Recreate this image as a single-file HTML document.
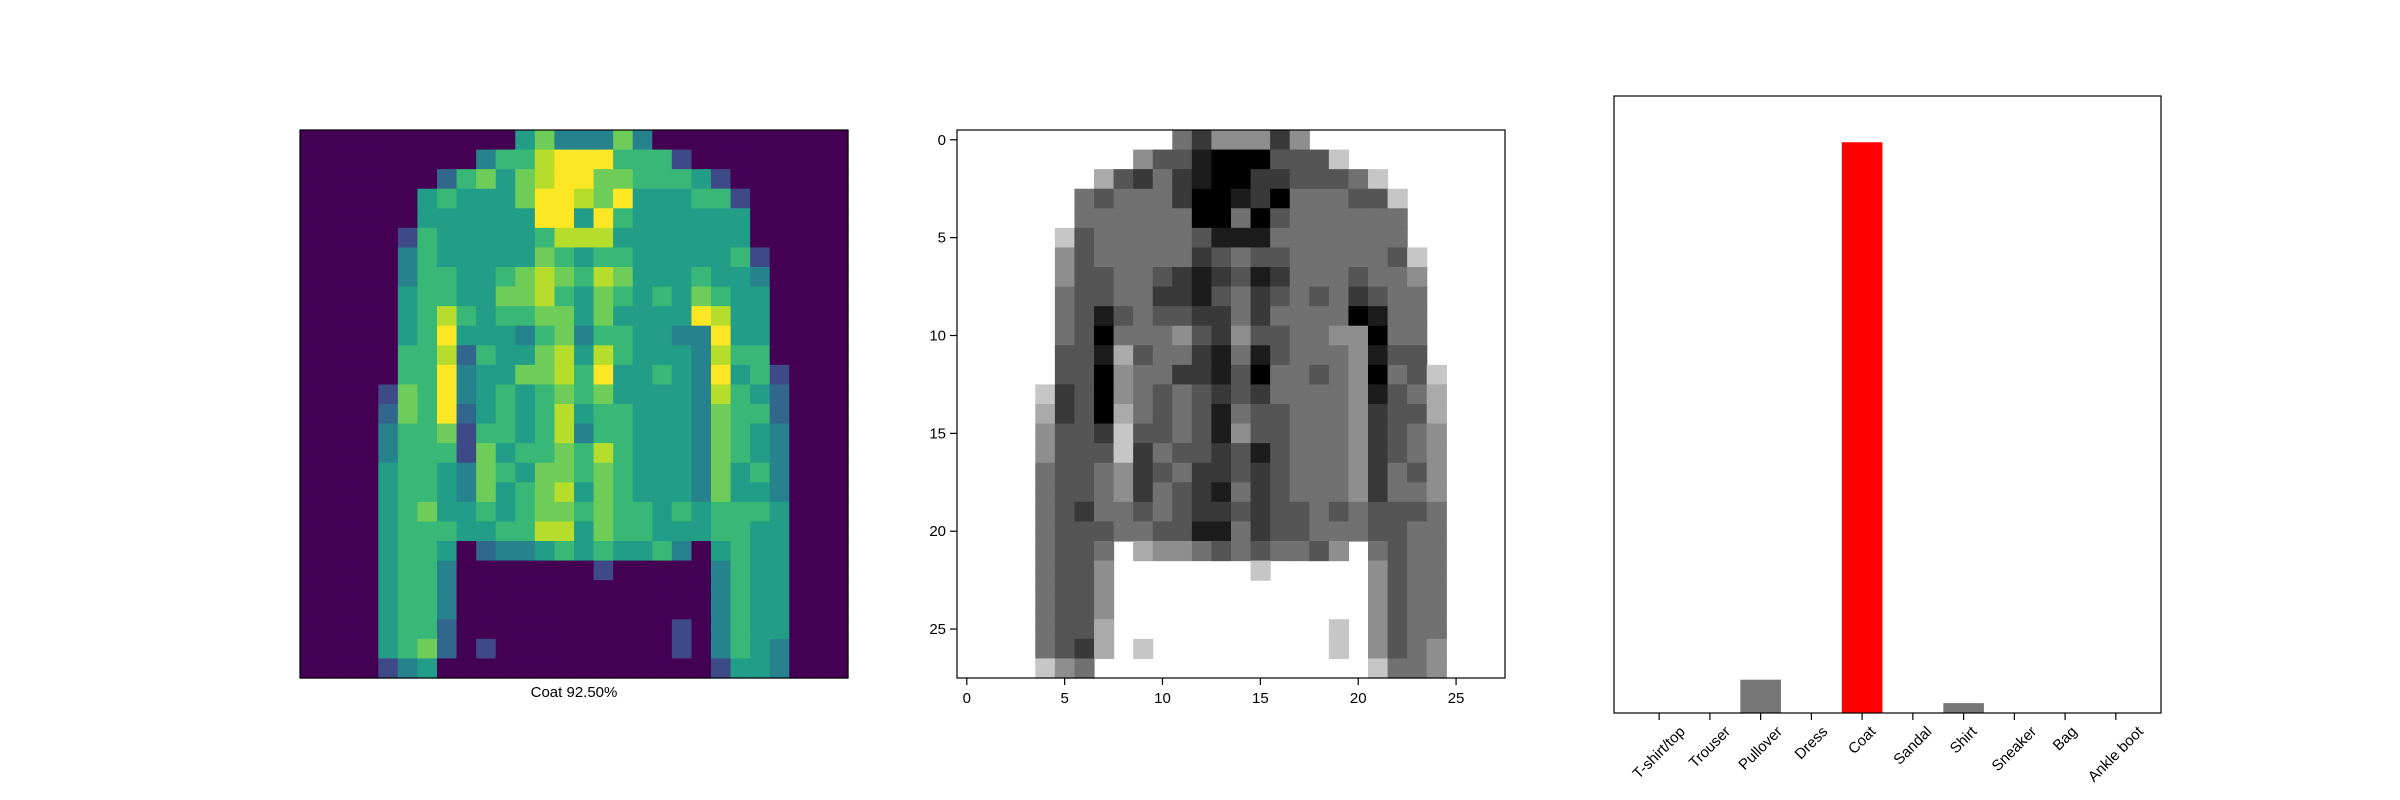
<!DOCTYPE html>
<html><head><meta charset="utf-8"><style>
html,body{margin:0;padding:0;background:#fff;}
svg{display:block;font-family:"Liberation Sans","DejaVu Sans",sans-serif;}
</style></head><body>
<svg id="fig" width="2400" height="800" viewBox="0 0 2400 800" xmlns="http://www.w3.org/2000/svg">
<g id="p1"></g>
<g id="p2"></g>
<g id="p3"></g>
</svg>
<script>
// image darkness levels 0-9 (28x28)
const imageRows = [
"0000000000057444740000000000",
"0000000004668999666200000000",
"0000000367578997766652000000",
"0000005655579987955566200000",
"0000005555559959655555500000",
"0000026555556888555555500000",
"0000046555557656655555620000",
"0000046655678768755565540000",
"0000056655778657656576550000",
"0000056865667757555598550000",
"0000056955546746655449550000",
"0000066836557858655548660000",
"0000066945577869556549562000",
"0000276945656767555548653000",
"0000376935656856655547663000",
"0000466726656846655547654000",
"0000466627566768655547654000",
"0000566547657767655547564000",
"0000566547567857655547554000",
"0000567556567767665656665000",
"0000566655668857665556655000",
"0000566503445656556405655000",
"0000566400000002000004655000",
"0000566400000000000004655000",
"0000566400000000000004655000",
"0000566300000000000204655000",
"0000567302000000000204654000",
"0000245000000000000002554000"
];
const classNames = ["T-shirt/top","Trouser","Pullover","Dress","Coat","Sandal","Shirt","Sneaker","Bag","Ankle boot"];
const probValues = [0.0005,0.0002,0.054,0.0008,0.925,0.0003,0.016,0.0002,0.0004,0.0003];
const predictedIndex = 4;
const imgTicks = [0,5,10,15,20,25];
const captionText = "Coat 92.50%";

const NS="http://www.w3.org/2000/svg";
function el(tag,attrs,parent){const e=document.createElementNS(NS,tag);for(const k in attrs)e.setAttribute(k,attrs[k]);parent.appendChild(e);return e;}
const vstops=["#440154","#482475","#414487","#355f8d","#2a788e","#21918c","#22a884","#44bf70","#7ad151","#bddf26","#fde725"];
function hex(h){return [parseInt(h.substr(1,2),16),parseInt(h.substr(3,2),16),parseInt(h.substr(5,2),16)];}
function viridis(t){t=Math.max(0,Math.min(1,t));const p=t*10,i=Math.min(9,Math.floor(p)),f=p-i;const a=hex(vstops[i]),b=hex(vstops[i+1]);return "rgb("+a.map((v,k)=>Math.round(v+(b[k]-v)*f)).join(",")+")";}
function gray(t){const g=Math.round(255*(1-t));return "rgb("+g+","+g+","+g+")";}

// Panel 1
const p1=document.getElementById('p1');
const X1=300,Y1=130,S1=548;
const c1=S1/28;
imageRows.forEach((row,r)=>{for(let c=0;c<28;c++){const v=+row[c]/9;
 const rc=el('rect',{x:X1+c*c1,y:Y1+r*c1,width:c1+0.6,height:c1+0.6,fill:viridis(v)},p1);
 
 }});
const f1=el('rect',{x:X1,y:Y1,width:S1,height:S1,fill:'none',stroke:'#000','stroke-width':1.2},p1);

const cap=el('text',{x:X1+S1/2,y:697,'text-anchor':'middle','font-size':15,fill:'#000'},p1);
cap.textContent=captionText;


// Panel 2
const p2=document.getElementById('p2');
const X2=957,Y2=130,S2=548;
const c2=S2/28;
function ix(v){return X2+(v+0.5)*c2;}
function iy(v){return Y2+(v+0.5)*c2;}
imageRows.forEach((row,r)=>{for(let c=0;c<28;c++){const v=+row[c]/9;if(v===0)continue;
 const rc=el('rect',{x:ix(c-0.5),y:iy(r-0.5),width:c2+0.6,height:c2+0.6,fill:gray(v)},p2);
 
 }});
const f2=el('rect',{x:X2,y:Y2,width:S2,height:S2,fill:'none',stroke:'#000','stroke-width':1.2},p2);

imgTicks.forEach(t=>{
 el('line',{x1:ix(t),x2:ix(t),y1:Y2+S2,y2:Y2+S2+7,stroke:'#000','stroke-width':1.2},p2);
 const tx=el('text',{x:ix(t),y:Y2+S2+25,'text-anchor':'middle','font-size':15},p2);tx.textContent=t;
 
 el('line',{x1:X2-7,x2:X2,y1:iy(t),y2:iy(t),stroke:'#000','stroke-width':1.2},p2);
 const ty=el('text',{x:X2-11,y:iy(t)+5,'text-anchor':'end','font-size':15},p2);ty.textContent=t;
 
});

// Panel 3
const p3=document.getElementById('p3');
const X3=1614,Y3=96,W3=547,H3=617;
const xmin=-0.89,xmax=9.89;
function bx(v){return X3+(v-xmin)/(xmax-xmin)*W3;}
function by(v){return Y3+H3-v*H3;}
probValues.forEach((p,i)=>{
 const b=el('rect',{x:bx(i-0.4),y:by(p),width:bx(0.4)-bx(-0.4),height:by(0)-by(p),fill:i===predictedIndex?'#ff0000':'#777777'},p3);
 
 
});
const f3=el('rect',{x:X3,y:Y3,width:W3,height:H3,fill:'none',stroke:'#000','stroke-width':1.2},p3);

classNames.forEach((n,i)=>{
 const x=bx(i);
 el('line',{x1:x,x2:x,y1:Y3+H3,y2:Y3+H3+7,stroke:'#000','stroke-width':1.2},p3);
 const t=el('text',{x:0,y:0,'text-anchor':'middle','dominant-baseline':'central','font-size':15},p3);
 t.textContent=n;
 
 
 const w=t.getComputedTextLength(),h=15;
 const cy=Y3+H3+11+(w+h)*0.3536;
 t.setAttribute('transform','translate('+x+','+cy+') rotate(-45)');
});
</script>
</body></html>
